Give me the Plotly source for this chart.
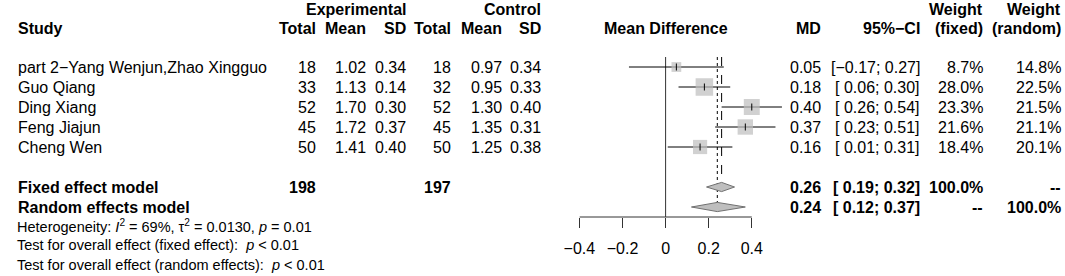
import plotly.graph_objects as go

# ---------------- data ----------------
studies = ["part 2\u2212Yang Wenjun,Zhao Xingguo", "Guo Qiang", "Ding Xiang", "Feng Jiajun", "Cheng Wen"]
exp_total = [18, 33, 52, 45, 50]
exp_mean = [1.02, 1.13, 1.70, 1.72, 1.41]
exp_sd = [0.34, 0.14, 0.30, 0.37, 0.40]
ctrl_total = [18, 32, 52, 45, 50]
ctrl_mean = [0.97, 0.95, 1.30, 1.35, 1.25]
ctrl_sd = [0.34, 0.33, 0.40, 0.31, 0.38]
md = [0.05, 0.18, 0.40, 0.37, 0.16]
ci_lo = [-0.17, 0.06, 0.26, 0.23, 0.01]
ci_hi = [0.27, 0.30, 0.54, 0.51, 0.31]
w_fixed = [8.7, 28.0, 23.3, 21.6, 18.4]
w_random = [14.8, 22.5, 21.5, 21.1, 20.1]

model_names = ["Fixed effect model", "Random effects model"]
model_md = [0.26, 0.24]
model_lo = [0.19, 0.12]
model_hi = [0.32, 0.37]
model_w_fixed = ["100.0%", "--"]
model_w_random = ["--", "100.0%"]
total_exp = 198
total_ctrl = 197

tick_vals = [-0.4, -0.2, 0, 0.2, 0.4]
tick_text = ["\u22120.4", "\u22120.2", "0", "0.2", "0.4"]

footer = [
    "Heterogeneity: <i>I</i><sup>2</sup> = 69%, \u03c4<sup>2</sup> = 0.0130, <i>p</i> = 0.01",
    "Test for overall effect (fixed effect):\u00a0 <i>p</i> < 0.01",
    "Test for overall effect (random effects):\u00a0 <i>p</i> < 0.01",
]

# ---------------- layout constants ----------------
W, H = 1065, 276
FONT = "Liberation Sans, Arial, sans-serif"
FS = 16
FS_FOOT = 14.5
ax_left, ax_right = 572, 747          # pixel extent of -0.4 .. 0.4
ax_top, ax_bottom = 57, 217           # pixel extent of forest panel (axis line at bottom)
panel_bottom = 232                    # plotting region extends a little below the axis line
marks_right = 800                     # plotting region extends right so long CIs are not clipped
row_px = 20
first_row_px = 67
px_per_unit = (ax_right - ax_left) / (tick_vals[-1] - tick_vals[0])

# right edges of the text columns (px)
col_x = dict(e_tot=305, e_mean=355, e_sd=396, c_tot=442, c_mean=493, c_sd=533,
             md=817, ci=918, w_f=982, w_r=1061)

study_rows = list(range(len(studies)))
model_rows = [6, 7]


def row_of(px):
    return (px - first_row_px) / row_px


def fmt(v):
    return f"{v:.2f}".replace("-", "\u2212")


def fmt_ci(lo, hi):
    return f"[{lo:5.2f}; {hi:4.2f}]".replace("-", "\u2212")


fig = go.Figure()
common = dict(xaxis="x", yaxis="y2", hoverinfo="skip", showlegend=False)

# axis line (only across the tick span) and zero line
axis_row = row_of(ax_bottom)
top_row = row_of(ax_top)
fig.add_trace(go.Scatter(x=[tick_vals[0], tick_vals[-1]], y=[axis_row, axis_row], mode="lines",
                         line=dict(color="#333333", width=1), **common))
fig.add_trace(go.Scatter(x=[0, 0], y=[top_row, axis_row], mode="lines",
                         line=dict(color="#333333", width=1), **common))

# CI lines
xs, ys = [], []
for r, lo, hi in zip(study_rows, ci_lo, ci_hi):
    xs += [lo, hi, None]
    ys += [r, r, None]
fig.add_trace(go.Scatter(x=xs, y=ys, mode="lines", line=dict(color="black", width=1), **common))

# squares (area proportional to fixed-effect weight)
max_side = 17.5
sizes = [max_side * (w / max(w_fixed)) ** 0.5 for w in w_fixed]
fig.add_trace(go.Scatter(x=md, y=study_rows, mode="markers",
                         marker=dict(symbol="square", size=sizes, color="#BEBEBE", line=dict(width=0)),
                         cliponaxis=False, **common))
# point estimate ticks
fig.add_trace(go.Scatter(x=md, y=study_rows, mode="markers",
                         marker=dict(symbol="line-ns-open", size=5, color="black",
                                     line=dict(color="black", width=1)),
                         cliponaxis=False, **common))

# reference lines for fixed (dashed) and random (dotted) effects
dh = 0.23
for m, r, dash in zip(model_md, model_rows, ["dash", "dot"]):
    fig.add_trace(go.Scatter(x=[m, m], y=[top_row, r - dh], mode="lines",
                             line=dict(color="black", width=1, dash=dash), **common))

# diamonds
for m, lo, hi, r in zip(model_md, model_lo, model_hi, model_rows):
    fig.add_trace(go.Scatter(x=[lo, m, hi, m, lo], y=[r, r - dh, r, r + dh, r], mode="lines",
                             fill="toself", fillcolor="#BEBEBE", line=dict(color="#707070", width=1),
                             **common))

# ---------------- text ----------------
ann = []


def txt(px, row, s, anchor="right", bold=False, size=FS):
    if bold:
        s = f"<b>{s}</b>"
    ann.append(dict(x=px / W, y=row, xref="paper", yref="y", text=s, showarrow=False,
                    xanchor=anchor, yanchor="middle", borderpad=0, borderwidth=0,
                    font=dict(family=FONT, size=size, color="black")))


h1, h2 = row_of(9.5), row_of(28)
txt(col_x["e_sd"], h1, "Experimental", bold=True)
txt(col_x["c_sd"], h1, "Control", bold=True)
txt(col_x["w_f"], h1, "Weight", bold=True)
txt(col_x["w_r"], h1, "Weight", bold=True)
txt(2, h2, "Study", anchor="left", bold=True)
for key, s in [("e_tot", "Total"), ("e_mean", "Mean"), ("e_sd", "SD"), ("c_tot", "Total"),
               ("c_mean", "Mean"), ("c_sd", "SD"), ("md", "MD"), ("ci", "95%\u2212CI"),
               ("w_f", "(fixed)"), ("w_r", "(random)")]:
    txt(col_x[key], h2, s, bold=True)
txt((ax_left + ax_right) / 2, h2, "Mean Difference", anchor="center", bold=True)

for i, r in enumerate(study_rows):
    txt(2, r, studies[i], anchor="left")
    txt(col_x["e_tot"], r, str(exp_total[i]))
    txt(col_x["e_mean"], r, fmt(exp_mean[i]))
    txt(col_x["e_sd"], r, fmt(exp_sd[i]))
    txt(col_x["c_tot"], r, str(ctrl_total[i]))
    txt(col_x["c_mean"], r, fmt(ctrl_mean[i]))
    txt(col_x["c_sd"], r, fmt(ctrl_sd[i]))
    txt(col_x["md"], r, fmt(md[i]))
    txt(col_x["ci"], r, fmt_ci(ci_lo[i], ci_hi[i]))
    txt(col_x["w_f"], r, f"{w_fixed[i]:.1f}%")
    txt(col_x["w_r"], r, f"{w_random[i]:.1f}%")

for j, r in enumerate(model_rows):
    txt(2, r, model_names[j], anchor="left", bold=True)
    txt(col_x["md"], r, fmt(model_md[j]), bold=True)
    txt(col_x["ci"], r, fmt_ci(model_lo[j], model_hi[j]), bold=True)
    txt(col_x["w_f"], r, model_w_fixed[j], bold=True)
    txt(col_x["w_r"], r, model_w_random[j], bold=True)
txt(col_x["e_tot"], model_rows[0], str(total_exp), bold=True)
txt(col_x["c_tot"], model_rows[0], str(total_ctrl), bold=True)

for s, px in zip(footer, [225.5, 245, 265]):
    txt(1, row_of(px), s, anchor="left", size=FS_FOOT)

# ---------------- axes ----------------
fig.update_layout(
    width=W, height=H, margin=dict(l=0, r=0, t=0, b=0),
    paper_bgcolor="white", plot_bgcolor="rgba(0,0,0,0)",
    font=dict(family=FONT, size=FS, color="black"),
    annotations=ann, showlegend=False,
    xaxis=dict(domain=[ax_left / W, marks_right / W],
               range=[tick_vals[0], tick_vals[0] + (marks_right - ax_left) / px_per_unit],
               anchor="free", position=(H - ax_bottom) / H,
               showline=False, showgrid=False, zeroline=False,
               ticks="outside", ticklen=10, tickcolor="#333333", tickwidth=1,
               tickvals=tick_vals, ticktext=tick_text,
               tickfont=dict(family=FONT, size=FS, color="black"), ticklabelstandoff=7),
    yaxis=dict(domain=[0, 1], range=[row_of(H), row_of(0)], visible=False, anchor="x"),
    yaxis2=dict(domain=[(H - panel_bottom) / H, (H - ax_top) / H],
                range=[row_of(panel_bottom), top_row], visible=False, anchor="x"),
)

fig.write_html("out.html", config={"displayModeBar": False},
               post_script="document.body.style.margin='0';document.body.style.overflow='hidden';")
